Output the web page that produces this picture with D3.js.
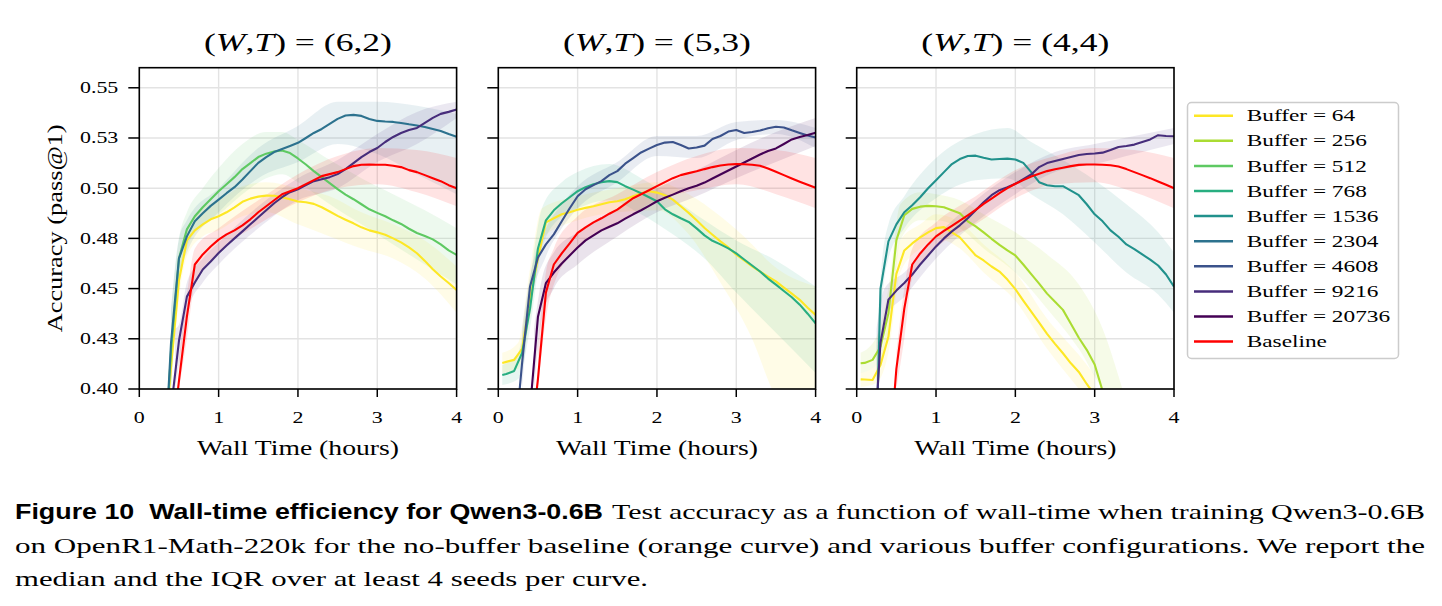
<!DOCTYPE html>
<html>
<head>
<meta charset="utf-8">
<script src="https://cdn.jsdelivr.net/npm/d3@7"></script>
<style>
  body { margin: 0; background: #fff; }
  svg { display: block; }
  text { white-space: pre; }
</style>
</head>
<body>
<div id="chart"></div>
<script>
// ---- data ----
const HOURS = [0.05, 0.1, 0.2, 0.3, 0.4, 0.5, 0.6, 0.7, 0.8, 0.9, 1.0,
  1.1, 1.2, 1.3, 1.4, 1.5, 1.6, 1.7, 1.8, 1.9, 2.0,
  2.1, 2.2, 2.3, 2.4, 2.5, 2.6, 2.7, 2.8, 2.9, 3.0,
  3.1, 3.2, 3.3, 3.4, 3.5, 3.6, 3.7, 3.8, 3.9, 4.0];

const X_TICKS = [0, 1, 2, 3, 4];
const Y_TICKS = [0.400, 0.425, 0.450, 0.475, 0.500, 0.525, 0.550];
const Y_TICK_LABELS = ["0.40", "0.43", "0.45", "0.48", "0.50", "0.53", "0.55"];
const PANEL_TITLES = [["6", "2"], ["5", "3"], ["4", "4"]];

const LEGEND_NAMES = ["Buffer = 64", "Buffer = 256", "Buffer = 512", "Buffer = 768", "Buffer = 1536",
  "Buffer = 2304", "Buffer = 4608", "Buffer = 9216", "Buffer = 20736", "Baseline"];
const LEGEND_COLORS = ["#fde725", "#aadc32", "#5ec962", "#28ae80", "#21918c",
  "#2c728e", "#3b528b", "#472d7b", "#440154", "#ff0000"];

// panel 1: (W,T) = (6,2)
const p1_buf64 = [null, null, null, 0.36, 0.411, 0.454, 0.474, 0.479, 0.482, 0.4845, 0.486,
  0.488, 0.4905, 0.4932, 0.4948, 0.4958, 0.4963, 0.4962, 0.4955, 0.4945, 0.4934,
  0.493, 0.4922, 0.4905, 0.4884, 0.4862, 0.4843, 0.4825, 0.4805, 0.479, 0.478,
  0.4768, 0.475, 0.473, 0.4705, 0.4676, 0.4638, 0.4596, 0.456, 0.4528, 0.4493];
const p1_buf512 = [null, null, null, 0.35, 0.419, 0.465, 0.4795, 0.486, 0.4905, 0.4945, 0.4985,
  0.502, 0.5055, 0.5095, 0.5125, 0.5155, 0.5172, 0.5183, 0.5188, 0.5175, 0.5148,
  0.5118, 0.5085, 0.5055, 0.5025, 0.4995, 0.4968, 0.4945, 0.492, 0.4895, 0.4877,
  0.486, 0.484, 0.4822, 0.4798, 0.4777, 0.4762, 0.4745, 0.472, 0.469, 0.4668];
const p1_buf2304 = [null, null, null, 0.35, 0.423, 0.465, 0.476, 0.4835, 0.4875, 0.4912, 0.4943,
  0.4975, 0.5005, 0.5043, 0.5085, 0.5126, 0.5155, 0.518, 0.5195, 0.521, 0.5226,
  0.525, 0.5275, 0.5295, 0.532, 0.5345, 0.5362, 0.5365, 0.536, 0.5345, 0.5335,
  0.5332, 0.533, 0.5325, 0.5318, 0.5312, 0.5305, 0.5295, 0.5285, 0.527, 0.5256];
const p1_buf9216 = [null, null, null, 0.34, 0.39, 0.424, 0.446, 0.453, 0.4595, 0.4635, 0.4677,
  0.4715, 0.475, 0.4785, 0.482, 0.4855, 0.489, 0.4925, 0.4955, 0.498, 0.4995,
  0.5015, 0.5035, 0.5045, 0.5055, 0.507, 0.5095, 0.5125, 0.5155, 0.518, 0.52,
  0.523, 0.5255, 0.5275, 0.529, 0.530, 0.5325, 0.535, 0.537, 0.538, 0.5392];
const p1_base = [null, null, null, null, 0.37, 0.404, 0.436, 0.462, 0.467, 0.471, 0.4744,
  0.477, 0.479, 0.4815, 0.4845, 0.488, 0.491, 0.494, 0.497, 0.4985, 0.500,
  0.502, 0.504, 0.506, 0.507, 0.508, 0.5095, 0.511, 0.5117, 0.5118, 0.5117,
  0.5117, 0.5112, 0.5105, 0.509, 0.508, 0.5065, 0.505, 0.5035, 0.5015, 0.500];

// panel 2: (W,T) = (5,3)
const p2_buf64 = [0.413, 0.4135, 0.4145, 0.42, 0.445, 0.465, 0.483, 0.485, 0.487, 0.488, 0.4893,
  0.4902, 0.491, 0.492, 0.493, 0.4935, 0.4945, 0.496, 0.4975, 0.4985, 0.4978,
  0.4965, 0.4943, 0.491, 0.4877, 0.484, 0.4802, 0.4768, 0.4735, 0.4705, 0.4669,
  0.464, 0.4611, 0.4585, 0.456, 0.4536, 0.4505, 0.4475, 0.4444, 0.4405, 0.4369];
const p2_buf768 = [0.407, 0.4075, 0.409, 0.418, 0.44, 0.47, 0.484, 0.489, 0.4925, 0.4955, 0.4985,
  0.5005, 0.502, 0.503, 0.5035, 0.503, 0.501, 0.4993, 0.4975, 0.4955, 0.4935,
  0.4895, 0.487, 0.485, 0.4832, 0.48, 0.4765, 0.4738, 0.472, 0.47, 0.4675,
  0.4645, 0.4615, 0.4585, 0.455, 0.452, 0.4488, 0.4457, 0.442, 0.4375, 0.4327];
const p2_buf4608 = [null, null, 0.37, 0.413, 0.451, 0.4655, 0.472, 0.477, 0.4835, 0.49, 0.496,
  0.4995, 0.5015, 0.5035, 0.5065, 0.5085, 0.5122, 0.515, 0.5178, 0.5197, 0.5215,
  0.5227, 0.523, 0.5215, 0.5198, 0.5203, 0.5212, 0.5245, 0.526, 0.5282, 0.529,
  0.5275, 0.528, 0.5287, 0.5298, 0.5306, 0.5302, 0.5288, 0.5275, 0.5262, 0.5252];
const p2_buf20736 = [null, null, null, 0.35, 0.39, 0.436, 0.4527, 0.458, 0.4625, 0.4665, 0.4705,
  0.474, 0.4765, 0.479, 0.4808, 0.4825, 0.4848, 0.487, 0.489, 0.4912, 0.4935,
  0.4952, 0.4968, 0.4985, 0.5, 0.5012, 0.5028, 0.5048, 0.5068, 0.5088, 0.5108,
  0.5128, 0.5148, 0.5168, 0.5185, 0.5198, 0.522, 0.5243, 0.5255, 0.5265, 0.5276];
const p2_base = [null, null, null, null, 0.37, 0.405, 0.448, 0.462, 0.4675, 0.4725, 0.4777,
  0.4805, 0.483, 0.485, 0.4873, 0.4893, 0.4922, 0.495, 0.497, 0.499, 0.501,
  0.503, 0.505, 0.5065, 0.5075, 0.5084, 0.5095, 0.5105, 0.5113, 0.5118, 0.512,
  0.5119, 0.5117, 0.5112, 0.5098, 0.5082, 0.5065, 0.5048, 0.5032, 0.5017, 0.5002];

// panel 3: (W,T) = (4,4)
const p3_buf64 = [0.4048, 0.4047, 0.4045, 0.412, 0.426, 0.4573, 0.469, 0.4725, 0.4755, 0.478, 0.4801,
  0.4806, 0.478, 0.4755, 0.471, 0.4665, 0.464, 0.461, 0.4585, 0.4545, 0.4497,
  0.444, 0.4385, 0.433, 0.4275, 0.4225, 0.4178, 0.4128, 0.4085, 0.4025, 0.397,
  null, null, null, null, null, null, null, null, null, null];
const p3_buf256 = [0.4128, 0.413, 0.4145, 0.421, 0.4377, 0.474, 0.4865, 0.4897, 0.4908, 0.4912, 0.491,
  0.4905, 0.489, 0.4875, 0.4835, 0.481, 0.478, 0.4748, 0.4718, 0.469, 0.4665,
  0.462, 0.4572, 0.4525, 0.4475, 0.4435, 0.4394, 0.4325, 0.4255, 0.4195, 0.4122,
  0.399, null, null, null, null, null, null, null, null, null];
const p3_buf1536 = [null, null, 0.30, 0.45, 0.4735, 0.482, 0.488, 0.4915, 0.4955, 0.5, 0.504,
  0.508, 0.512, 0.5145, 0.516, 0.5162, 0.5152, 0.5143, 0.5145, 0.5147, 0.5143,
  0.5126, 0.508, 0.503, 0.5015, 0.501, 0.501, 0.4988, 0.4965, 0.492, 0.487,
  0.4835, 0.479, 0.4758, 0.472, 0.4697, 0.467, 0.4644, 0.4615, 0.457, 0.451];
const p3_buf9216 = [null, null, 0.36, 0.423, 0.4445, 0.449, 0.4528, 0.457, 0.462, 0.4665, 0.471,
  0.475, 0.4785, 0.4815, 0.485, 0.489, 0.493, 0.4965, 0.499, 0.5005, 0.5022,
  0.5045, 0.5068, 0.5105, 0.5125, 0.5135, 0.5145, 0.5155, 0.5165, 0.517, 0.5173,
  0.5177, 0.519, 0.5205, 0.521, 0.5217, 0.523, 0.5243, 0.5264, 0.526, 0.5259];
const p3_base = [null, null, null, null, 0.36, 0.41, 0.44, 0.462, 0.4675, 0.472, 0.476,
  0.4787, 0.4812, 0.4838, 0.4865, 0.4892, 0.4922, 0.4948, 0.4975, 0.5, 0.5022,
  0.504, 0.5058, 0.5072, 0.5085, 0.5094, 0.5102, 0.511, 0.5116, 0.5118, 0.5118,
  0.5117, 0.5114, 0.5108, 0.5095, 0.508, 0.5065, 0.505, 0.5033, 0.5017, 0.50];

// IQR bands: [hours, lower, upper]
const p1_iqr64 = [[0.4, 0.40, 0.43], [0.5, 0.445, 0.465], [0.6, 0.466, 0.48], [0.8, 0.476, 0.49], [1.0, 0.479, 0.494],
  [1.3, 0.486, 0.501], [1.6, 0.488, 0.503], [2.0, 0.482, 0.50], [2.4, 0.476, 0.496], [2.8, 0.47, 0.488],
  [3.2, 0.465, 0.482], [3.6, 0.455, 0.474], [4.0, 0.438, 0.461]];
const p1_iqr512 = [[0.4, 0.40, 0.44], [0.5, 0.455, 0.475], [0.6, 0.47, 0.488], [0.8, 0.482, 0.50], [1.0, 0.487, 0.51],
  [1.3, 0.497, 0.522], [1.6, 0.505, 0.528], [1.8, 0.507, 0.528], [2.0, 0.503, 0.524], [2.4, 0.492, 0.514],
  [2.8, 0.482, 0.505], [3.2, 0.472, 0.497], [3.6, 0.462, 0.489], [4.0, 0.452, 0.48]];
const p1_iqr2304 = [[0.4, 0.40, 0.44], [0.5, 0.455, 0.475], [0.6, 0.468, 0.484], [1.0, 0.488, 0.50], [1.5, 0.505, 0.52],
  [2.0, 0.513, 0.531], [2.5, 0.522, 0.543], [3.0, 0.517, 0.543], [3.5, 0.507, 0.541], [4.0, 0.497, 0.537]];
const p1_iqr9216 = [[0.45, 0.40, 0.43], [0.5, 0.412, 0.432], [0.6, 0.438, 0.453], [0.8, 0.453, 0.465], [1.0, 0.462, 0.473],
  [1.5, 0.48, 0.491], [2.0, 0.494, 0.505], [2.5, 0.50, 0.514], [3.0, 0.513, 0.527], [3.5, 0.522, 0.538], [4.0, 0.535, 0.543]];
const p1_iqrBase = [[0.5, 0.40, 0.415], [0.6, 0.425, 0.447], [0.7, 0.452, 0.47], [1.0, 0.468, 0.48], [1.5, 0.482, 0.494],
  [2.0, 0.493, 0.507], [2.5, 0.50, 0.516], [3.0, 0.502, 0.52], [3.5, 0.498, 0.519], [4.0, 0.491, 0.515]];

const p2_iqr64 = [[0.05, 0.408, 0.418], [0.25, 0.41, 0.423], [0.4, 0.435, 0.46], [0.55, 0.475, 0.49], [1.0, 0.484, 0.496],
  [1.5, 0.488, 0.50], [2.0, 0.489, 0.503], [2.4, 0.477, 0.497], [2.8, 0.453, 0.486], [3.2, 0.425, 0.472],
  [3.45, 0.40, 0.462], [4.0, 0.37, 0.451]];
const p2_iqr768 = [[0.05, 0.402, 0.412], [0.25, 0.405, 0.418], [0.4, 0.43, 0.455], [0.55, 0.47, 0.49], [0.8, 0.486, 0.503],
  [1.0, 0.49, 0.508], [1.4, 0.494, 0.512], [1.8, 0.487, 0.505], [2.2, 0.477, 0.495], [2.6, 0.465, 0.484],
  [3.0, 0.448, 0.474], [3.5, 0.428, 0.464], [4.0, 0.408, 0.451]];
const p2_iqr4608 = [[0.3, 0.40, 0.43], [0.4, 0.44, 0.456], [0.6, 0.466, 0.48], [0.8, 0.48, 0.492], [1.0, 0.49, 0.501],
  [1.5, 0.503, 0.513], [2.0, 0.516, 0.526], [2.5, 0.515, 0.526], [3.0, 0.524, 0.533], [3.5, 0.527, 0.534], [4.0, 0.52, 0.53]];
const p2_iqr20736 = [[0.45, 0.40, 0.43], [0.55, 0.435, 0.455], [0.7, 0.45, 0.468], [1.0, 0.462, 0.478], [1.5, 0.476, 0.49],
  [2.0, 0.488, 0.50], [2.5, 0.496, 0.509], [3.0, 0.505, 0.519], [3.5, 0.513, 0.528], [4.0, 0.521, 0.535]];
const p2_iqrBase = [[0.5, 0.40, 0.42], [0.6, 0.435, 0.458], [0.7, 0.452, 0.47], [1.0, 0.47, 0.486], [1.5, 0.482, 0.497],
  [2.0, 0.494, 0.508], [2.5, 0.499, 0.516], [3.0, 0.502, 0.52], [3.5, 0.497, 0.519], [4.0, 0.49, 0.515]];

const p3_iqr64 = [[0.05, 0.401, 0.408], [0.25, 0.403, 0.412], [0.4, 0.418, 0.435], [0.55, 0.458, 0.474], [0.8, 0.47, 0.482],
  [1.0, 0.475, 0.487], [1.3, 0.47, 0.483], [1.6, 0.458, 0.472], [2.0, 0.444, 0.458], [2.4, 0.42, 0.435],
  [2.8, 0.40, 0.417], [3.0, 0.39, 0.407]];
const p3_iqr256 = [[0.05, 0.408, 0.418], [0.25, 0.412, 0.426], [0.4, 0.425, 0.45], [0.55, 0.474, 0.492], [0.8, 0.484, 0.498],
  [1.0, 0.484, 0.497], [1.3, 0.48, 0.494], [1.6, 0.47, 0.487], [2.0, 0.458, 0.478], [2.4, 0.44, 0.467],
  [2.8, 0.42, 0.452], [3.1, 0.40, 0.43], [3.35, 0.39, 0.40]];
const p3_iqr1536 = [[0.25, 0.40, 0.42], [0.3, 0.435, 0.455], [0.4, 0.465, 0.482], [0.6, 0.48, 0.496], [1.0, 0.495, 0.515],
  [1.5, 0.504, 0.527], [1.9, 0.505, 0.53], [2.2, 0.497, 0.523], [2.6, 0.487, 0.514], [3.0, 0.473, 0.504],
  [3.4, 0.458, 0.492], [3.8, 0.447, 0.478], [4.0, 0.438, 0.468]];
const p3_iqr9216 = [[0.25, 0.40, 0.43], [0.35, 0.435, 0.45], [0.6, 0.446, 0.458], [1.0, 0.465, 0.476], [1.5, 0.483, 0.494],
  [2.0, 0.497, 0.508], [2.5, 0.508, 0.518], [3.0, 0.512, 0.522], [3.5, 0.517, 0.526], [4.0, 0.522, 0.53]];
const p3_iqrBase = [[0.5, 0.40, 0.418], [0.6, 0.425, 0.45], [0.7, 0.455, 0.47], [1.0, 0.47, 0.483], [1.5, 0.482, 0.496],
  [2.0, 0.495, 0.509], [2.5, 0.502, 0.516], [3.0, 0.503, 0.52], [3.5, 0.498, 0.519], [4.0, 0.49, 0.515]];

// which legend entry each curve belongs to (index into LEGEND_COLORS)
const PANELS = [
  [[0, p1_buf64, p1_iqr64], [2, p1_buf512, p1_iqr512], [5, p1_buf2304, p1_iqr2304], [7, p1_buf9216, p1_iqr9216], [9, p1_base, p1_iqrBase]],
  [[0, p2_buf64, p2_iqr64], [3, p2_buf768, p2_iqr768], [6, p2_buf4608, p2_iqr4608], [8, p2_buf20736, p2_iqr20736], [9, p2_base, p2_iqrBase]],
  [[0, p3_buf64, p3_iqr64], [1, p3_buf256, p3_iqr256], [4, p3_buf1536, p3_iqr1536], [7, p3_buf9216, p3_iqr9216], [9, p3_base, p3_iqrBase]]
];

// ---- layout ----
let FRAME_WIDTH = 1442;
let FRAME_HEIGHT = 606;
let PANEL_LEFT = [139.3, 498.3, 856.7];
let PANEL_W = 317.3;
let PANEL_TOP = 67.7;
let PANEL_BOTTOM = 389;
let SERIF = "'Liberation Serif', 'Times New Roman', serif";
let SANS = "'Liberation Sans', Arial, sans-serif";
let KX = 1.37;   // horizontal stretch of the glyphs in the reference

let svg = d3.select("#chart").append("svg")
  .attr("width", FRAME_WIDTH)
  .attr("height", FRAME_HEIGHT);

// text with glyphs stretched to a target width
function putText(parent, x, y, opts, fill) {
  let t = parent.append("text")
    .attr("x", 0).attr("y", 0)
    .style("font-family", opts.family || SERIF)
    .style("font-size", opts.size + "px")
    .style("font-weight", opts.weight || "normal")
    .attr("fill", "#000");
  if (typeof fill === "function") fill(t); else t.text(fill);
  let nat = t.node().getComputedTextLength();
  let w = opts.width || nat * (opts.kx || KX);
  t.attr("textLength", w).attr("lengthAdjust", "spacingAndGlyphs");
  let dx = opts.anchor === "middle" ? -w / 2 : (opts.anchor === "end" ? -w : 0);
  t.attr("x", dx)
    .attr("transform", "translate(" + x + "," + y + ")" + (opts.rotate ? " rotate(" + opts.rotate + ")" : ""));
  return t;
}

const Y_SCALE = d3.scaleLinear().domain([0.40, 0.56]).range([PANEL_BOTTOM, PANEL_TOP]);

let defs = svg.append("defs");

PANELS.forEach((curves, pi) => {
  const X_SCALE = d3.scaleLinear().domain([0, 4]).range([PANEL_LEFT[pi], PANEL_LEFT[pi] + PANEL_W]);
  let g = svg.append("g");

  defs.append("clipPath").attr("id", "clip" + pi)
    .append("rect")
      .attr("x", PANEL_LEFT[pi]).attr("y", PANEL_TOP)
      .attr("width", PANEL_W).attr("height", PANEL_BOTTOM - PANEL_TOP);

  // grid
  g.selectAll(".vgrid").data(X_TICKS).enter().append("line")
    .attr("x1", d => X_SCALE(d)).attr("x2", d => X_SCALE(d))
    .attr("y1", PANEL_TOP).attr("y2", PANEL_BOTTOM)
    .attr("stroke", "#e3e3e3").attr("stroke-width", 1.4);
  g.selectAll(".hgrid").data(Y_TICKS).enter().append("line")
    .attr("x1", PANEL_LEFT[pi]).attr("x2", PANEL_LEFT[pi] + PANEL_W)
    .attr("y1", d => Y_SCALE(d)).attr("y2", d => Y_SCALE(d))
    .attr("stroke", "#e3e3e3").attr("stroke-width", 1.4);

  let plot = g.append("g").attr("clip-path", "url(#clip" + pi + ")");

  // IQR bands
  curves.forEach(([ci, med, iqr]) => {
    let area = d3.area()
      .x(d => X_SCALE(d[0]))
      .y0(d => Y_SCALE(d[1]))
      .y1(d => Y_SCALE(d[2]))
      .curve(d3.curveMonotoneX);
    plot.append("path")
      .attr("d", area(iqr))
      .attr("fill", LEGEND_COLORS[ci])
      .attr("fill-opacity", 0.11)
      .attr("stroke", "none");
  });

  // median lines
  curves.forEach(([ci, med, iqr]) => {
    let line = d3.line()
      .defined(d => d[1] !== null)
      .x(d => X_SCALE(d[0]))
      .y(d => Y_SCALE(d[1]));
    plot.append("path")
      .attr("d", line(HOURS.map((h, i) => [h, med[i]])))
      .attr("fill", "none")
      .attr("stroke", LEGEND_COLORS[ci])
      .attr("stroke-width", 2.1)
      .attr("stroke-linejoin", "round");
  });

  // frame
  g.append("rect")
    .attr("x", PANEL_LEFT[pi]).attr("y", PANEL_TOP)
    .attr("width", PANEL_W).attr("height", PANEL_BOTTOM - PANEL_TOP)
    .attr("fill", "none").attr("stroke", "#000").attr("stroke-width", 1.6);

  // ticks
  g.selectAll(".xt").data(X_TICKS).enter().append("line")
    .attr("x1", d => X_SCALE(d)).attr("x2", d => X_SCALE(d))
    .attr("y1", PANEL_BOTTOM).attr("y2", PANEL_BOTTOM + 8)
    .attr("stroke", "#000").attr("stroke-width", 1.5);
  g.selectAll(".yt").data(Y_TICKS).enter().append("line")
    .attr("x1", PANEL_LEFT[pi] - 11).attr("x2", PANEL_LEFT[pi])
    .attr("y1", d => Y_SCALE(d)).attr("y2", d => Y_SCALE(d))
    .attr("stroke", "#000").attr("stroke-width", 1.5);

  X_TICKS.forEach(d => putText(g, X_SCALE(d), 423, {size: 16, anchor: "middle"}, String(d)));
  if (pi === 0) {
    Y_TICKS.forEach((d, i) => putText(g, PANEL_LEFT[pi] - 21, Y_SCALE(d) + 5.4, {size: 16, anchor: "end"}, Y_TICK_LABELS[i]));
    putText(g, 62, (PANEL_TOP + PANEL_BOTTOM) / 2, {size: 21, anchor: "middle", rotate: -90, width: 208}, "Accuracy (pass@1)");
  }
  putText(g, PANEL_LEFT[pi] + PANEL_W / 2, 455, {size: 21, anchor: "middle", width: 202}, "Wall Time (hours)");

  // title (W,T) = (a,b)
  putText(g, PANEL_LEFT[pi] + PANEL_W / 2, 51, {size: 25, anchor: "middle", width: 188}, t => {
    t.append("tspan").text("(");
    t.append("tspan").style("font-style", "italic").text("W");
    t.append("tspan").text(",");
    t.append("tspan").style("font-style", "italic").text("T");
    t.append("tspan").text(") = (" + PANEL_TITLES[pi][0] + "," + PANEL_TITLES[pi][1] + ")");
  });
});

// legend
let legend = svg.append("g");
legend.append("rect")
  .attr("x", 1187.5).attr("y", 102.5)
  .attr("width", 211).attr("height", 256)
  .attr("rx", 4)
  .attr("fill", "#fff").attr("stroke", "#cccccc").attr("stroke-width", 1.5);
LEGEND_NAMES.forEach((name, i) => {
  let y = 115.7 + i * 25.1;
  legend.append("line")
    .attr("x1", 1194).attr("x2", 1233)
    .attr("y1", y).attr("y2", y)
    .attr("stroke", LEGEND_COLORS[i]).attr("stroke-width", 2.5);
  putText(legend, 1246.7, y + 5.6, {size: 17}, name);
});

// caption
let cap = svg.append("g");
putText(cap, 15, 518.5, {size: 22, family: SANS, weight: "bold", width: 588}, "Figure 10  Wall-time efficiency for Qwen3-0.6B");
putText(cap, 612, 518.5, {size: 22, width: 813}, "Test accuracy as a function of wall-time when training Qwen3-0.6B");
putText(cap, 15, 552.5, {size: 22, width: 1410}, "on OpenR1-Math-220k for the no-buffer baseline (orange curve) and various buffer configurations. We report the");
putText(cap, 15, 586, {size: 22, width: 633}, "median and the IQR over at least 4 seeds per curve.");
</script>
</body>
</html>
